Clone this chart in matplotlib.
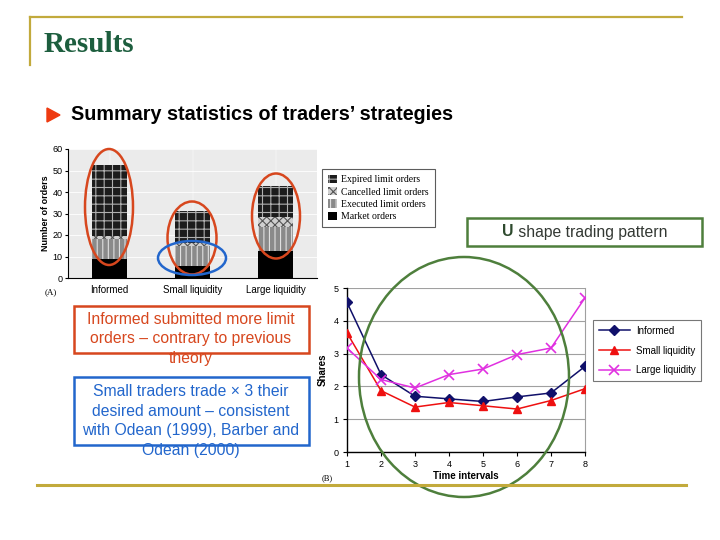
import matplotlib
matplotlib.use('Agg')
import matplotlib.pyplot as plt
from matplotlib.patches import Ellipse, Rectangle, Polygon

W, H = 720, 540
fig = plt.figure(figsize=(7.2, 5.4), dpi=100)
plt.rcParams['font.family'] = ['Liberation Sans', 'DejaVu Sans']
plt.rcParams['hatch.linewidth'] = 0.8

# ---------------- data ----------------
categories = ['Informed', 'Small liquidity', 'Large liquidity']
market = [9.0, 5.7, 12.4]
executed = [9.2, 9.3, 11.3]
cancelled = [1.4, 1.2, 4.6]
expired = [32.8, 15.0, 14.7]
bar_labels = ['Expired limit orders', 'Cancelled limit orders',
              'Executed limit orders', 'Market orders']
bar_yticks = [0, 10, 20, 30, 40, 50, 60]

intervals = [1, 2, 3, 4, 5, 6, 7, 8]
informed = [4.56, 2.36, 1.70, 1.62, 1.54, 1.68, 1.80, 2.61]
small_liq = [3.63, 1.87, 1.37, 1.51, 1.41, 1.31, 1.57, 1.93]
large_liq = [3.17, 2.21, 1.95, 2.36, 2.53, 2.97, 3.17, 4.70]
line_labels = ['Informed', 'Small liquidity', 'Large liquidity']
line_yticks = [0, 1, 2, 3, 4, 5]


def ax_px(x0, y0, x1, y1, **kw):
    return fig.add_axes([x0 / W, 1 - y1 / H, (x1 - x0) / W, (y1 - y0) / H], **kw)


# ---------------- bar chart (A) ----------------
ax1 = ax_px(68, 149, 317, 278)
ax1.set_facecolor('#ebebeb')
x = list(range(len(categories)))
bw = 0.41
styles = [
    dict(color='#000000', edgecolor='#000000', hatch=None),
    dict(color='#8a8a8a', edgecolor='#e0e0e0', hatch='|||'),
    dict(color='#d0d0d0', edgecolor='#555555', hatch='xxxx'),
    dict(color='#1c1c1c', edgecolor='#b0b0b0', hatch='++'),
]
series = [market, executed, cancelled, expired]
bottoms = [0.0] * len(categories)
handles = []
for vals, st in zip(series, styles):
    b = ax1.bar(x, vals, bw, bottom=bottoms, color=st['color'],
                edgecolor=st['edgecolor'], hatch=st['hatch'], linewidth=0, zorder=3)
    handles.append(b)
    bottoms = [bo + v for bo, v in zip(bottoms, vals)]
ax1.set_xlim(-0.5, 2.5)
ax1.set_ylim(0, 60)
ax1.set_yticks(bar_yticks)
ax1.set_yticklabels([str(t) for t in bar_yticks], fontsize=6.5)
ax1.set_xticks(x)
ax1.set_xticklabels(categories, fontsize=7)
ax1.tick_params(axis='x', length=0, pad=5)
ax1.tick_params(axis='y', length=2, pad=2)
ax1.set_ylabel('Number of orders', fontsize=6.5, fontweight='bold', labelpad=2)
ax1.grid(axis='y', color='white', linewidth=0.6, zorder=0)
ax1.grid(axis='x', color='white', linewidth=0.3, zorder=0)
for s in ['top', 'right']:
    ax1.spines[s].set_visible(False)
ax1.spines['left'].set_linewidth(0.8)
ax1.spines['bottom'].set_linewidth(0.8)

leg1 = fig.legend(handles[::-1], bar_labels, loc='upper left',
                  bbox_to_anchor=(322 / W, 1 - 169 / H), borderaxespad=0,
                  prop={'family': 'Liberation Serif', 'size': 7},
                  frameon=True, fancybox=False, edgecolor='#333333',
                  handlelength=0.9, handleheight=0.9, handletextpad=0.5,
                  labelspacing=0.3, borderpad=0.6)
leg1.get_frame().set_linewidth(0.8)

# ---------------- line chart (B) ----------------
ax2 = ax_px(347, 288, 585, 452)
ax2.plot(intervals, informed, color='#10106a', marker='D', markersize=5,
         linewidth=1.1, label=line_labels[0], zorder=4)
ax2.plot(intervals, small_liq, color='#ee1010', marker='^', markersize=6,
         linewidth=1.1, label=line_labels[1], zorder=4)
ax2.plot(intervals, large_liq, color='#e030e0', marker='x', markersize=6.5,
         markeredgewidth=1.2, linewidth=1.1, label=line_labels[2], zorder=4)
ax2.set_xlim(1, 8)
ax2.set_ylim(0, 5)
ax2.set_xticks(intervals)
ax2.set_yticks(line_yticks)
ax2.tick_params(labelsize=6.5, length=3, pad=3)
ax2.grid(axis='y', color='#a0a0a0', linewidth=0.8)
ax2.spines['top'].set_visible(False)
ax2.spines['right'].set_color('#a0a0a0')
ax2.spines['left'].set_linewidth(1.0)
ax2.spines['bottom'].set_linewidth(1.0)
ax2.set_ylabel('Shares', fontsize=7, fontweight='bold', labelpad=4)
ax2.set_xlabel('Time intervals', fontsize=7, fontweight='bold', labelpad=1)

h2, l2 = ax2.get_legend_handles_labels()
leg2 = fig.legend(h2, l2, loc='upper left', bbox_to_anchor=(593 / W, 1 - 320 / H),
                  borderaxespad=0, fontsize=7, frameon=True, fancybox=False,
                  edgecolor='#555555', handlelength=3.2, labelspacing=1.0,
                  borderpad=0.6, handletextpad=0.6)
leg2.get_frame().set_linewidth(0.8)

# ---------------- slide overlay ----------------
ov = fig.add_axes([0, 0, 1, 1], zorder=10)
ov.set_xlim(0, W)
ov.set_ylim(H, 0)
ov.axis('off')
ov.patch.set_alpha(0)

gold = '#c2aa3c'
ov.plot([30, 682], [17, 17], color=gold, linewidth=1.6)
ov.plot([30, 30], [17, 65], color=gold, linewidth=1.6)
ov.plot([37, 686], [485, 485], color=gold, linewidth=2.2)

ov.text(44, 44, 'Results', family='Liberation Serif', fontweight='bold',
        fontsize=21, color='#1d5e3e', va='center', ha='left')

ov.add_patch(Polygon([[47, 108], [47, 122], [60, 115]], closed=True,
                     color='#ee3a10'))
ov.text(71, 115, 'Summary statistics of traders\u2019 strategies', fontsize=14.2,
        fontweight='bold', va='center', ha='left', color='black')

ov.text(45, 292, '(A)', family='Liberation Serif', fontsize=6.5, va='center')
ov.text(322, 478, '(B)', family='Liberation Serif', fontsize=6, va='center')

red = '#d7471e'
blue = '#2266cc'
green = '#4e7f3c'
for cx, cy, w, h in [(109, 207, 48, 116), (192, 238, 49, 73), (276, 216, 48, 85)]:
    ov.add_patch(Ellipse((cx, cy), w, h, fill=False, edgecolor=red, linewidth=1.8))
ov.add_patch(Ellipse((192, 258), 68, 34, fill=False, edgecolor=blue, linewidth=1.8))
ov.add_patch(Ellipse((464, 377), 210, 240, fill=False, edgecolor=green, linewidth=1.8))

ov.add_patch(Rectangle((74, 306), 235, 47, fill=False, edgecolor=red, linewidth=1.8))
for yy, t in zip([320, 339, 358], ['Informed submitted more limit',
                                   'orders \u2013 contrary to previous', 'theory']):
    ov.text(191, yy, t, fontsize=11.3, color=red, ha='center', va='center')

ov.add_patch(Rectangle((74, 377), 235, 68, fill=False, edgecolor=blue, linewidth=1.8))
for yy, t in zip([392, 411, 431, 450], ['Small traders trade \u00d7 3 their',
                                        'desired amount \u2013 consistent',
                                        'with Odean (1999), Barber and',
                                        'Odean (2000)']):
    ov.text(191, yy, t, fontsize=11.3, color=blue, ha='center', va='center')

ov.add_patch(Rectangle((467, 218), 235, 28, fill=False, edgecolor=green, linewidth=1.8))
tU = ov.text(502, 232, 'U', fontsize=11.3, fontweight='bold', color='#2e4a2e',
             ha='left', va='center')
ov.annotate(' shape trading pattern', xy=(1, 0.5), xycoords=tU, fontsize=11.3,
            color='#333833', ha='left', va='center')

fig.savefig('out.png', dpi=100)
